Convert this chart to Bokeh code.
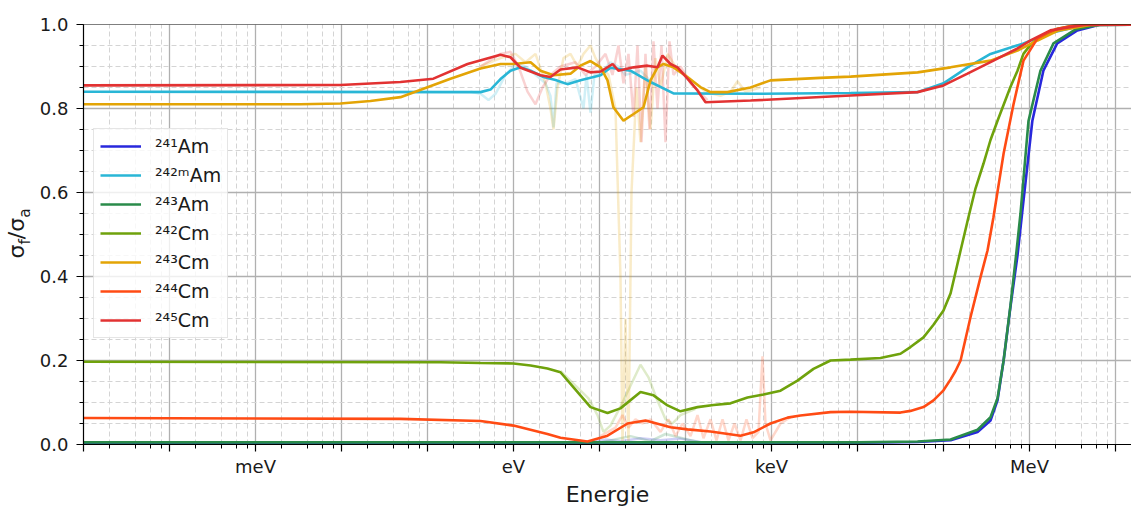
import math
from bokeh.plotting import figure
from bokeh.models import (Range1d, FixedTicker, Span, Legend, LegendItem, LinearAxis,
                          CustomJSTickFormatter, PrintfTickFormatter)
from bokeh.embed import file_html
from bokeh.resources import INLINE

FONT = "DejaVu Sans"

# ---------------- data (energy in eV, ratio sigma_f / sigma_a) ----------------
names = ["²⁴¹Am", "²⁴²ᵐAm", "²⁴³Am", "²⁴²Cm", "²⁴³Cm", "²⁴⁴Cm", "²⁴⁵Cm"]
colors = ["#2828dc", "#29b6d6", "#2a8b4a", "#6fa20c", "#e3a405", "#ff4b14", "#e23232"]

# smoothed curves
E_am241 = [1e-5, 1e4, 5e4, 1.21e5, 2.49e5, 3.52e5, 4.25e5, 5.0e5, 6.0e5, 7.25e5, 8.3e5, 1.08e6, 1.45e6, 2.1e6, 3.6e6, 6.7e6, 2e7]
am241 = [0.004, 0.004, 0.006, 0.01, 0.03, 0.057, 0.105, 0.2, 0.327, 0.45, 0.56, 0.771, 0.89, 0.955, 0.986, 1.0, 1.0]

E_am242m = [1e-5, 0.413, 0.54, 0.706, 0.923, 1.21, 1.58, 2.23, 3.08, 4.24, 6.01, 10.3, 13.4, 22.9, 39.2, 72.5, 745, 8300, 5.0e4, 1.0e5, 1.9e5, 3.52e5, 8.5e5, 1.75e6, 4.25e6, 2e7]
am242m = [0.840, 0.839, 0.845, 0.87, 0.89, 0.898, 0.89, 0.875, 0.868, 0.858, 0.867, 0.879, 0.897, 0.89, 0.863, 0.836, 0.835, 0.837, 0.839, 0.86, 0.898, 0.93, 0.955, 0.98, 0.998, 1.0]

E_am243 = [1e-5, 1e4, 5e4, 1.21e5, 2.49e5, 3.52e5, 4.25e5, 5.0e5, 6.0e5, 7.06e5, 7.86e5, 9.73e5, 1.34e6, 1.9e6, 3.4e6, 6.7e6, 2e7]
am243 = [0.005, 0.005, 0.007, 0.012, 0.035, 0.065, 0.11, 0.2, 0.33, 0.46, 0.55, 0.77, 0.89, 0.955, 0.988, 1.0, 1.0]

E_cm242 = [1e-5, 0.142, 0.413, 1.0, 1.58, 2.48, 3.52, 4.99, 7.86, 12.4, 17.5, 30.0, 42.5, 61.8, 87.5, 138, 212, 334, 526, 807, 1273, 2004, 3077, 4855, 8300, 1.85e4, 3.16e4, 4.13e4, 5.85e4, 7.65e4, 1.0e5, 1.21e5, 1.38e5, 1.58e5, 1.95e5, 2.36e5, 2.92e5, 3.52e5, 4.25e5, 6.0e5, 7.25e5, 8.5e5, 1.03e6, 1.24e6, 1.62e6, 2.12e6, 3.4e6, 5.1e6, 2e7]
cm242 = [0.197, 0.196, 0.194, 0.193, 0.188, 0.181, 0.172, 0.136, 0.089, 0.075, 0.086, 0.125, 0.117, 0.093, 0.079, 0.089, 0.094, 0.098, 0.112, 0.119, 0.128, 0.152, 0.18, 0.2, 0.202, 0.206, 0.216, 0.232, 0.255, 0.285, 0.319, 0.36, 0.41, 0.462, 0.541, 0.61, 0.669, 0.725, 0.771, 0.851, 0.89, 0.93, 0.952, 0.966, 0.98, 0.99, 0.998, 1.0, 1.0]

E_cm243 = [1e-5, 3.3e-3, 9.7e-3, 0.0217, 0.0485, 0.185, 0.413, 0.706, 1.0, 1.58, 2.06, 2.92, 4.6, 6.0, 7.85, 10.3, 12.4, 14.5, 19.0, 24.9, 32.5, 39.2, 47.3, 55.5, 72.5, 105, 149, 195, 307, 570, 973, 3700, 8300, 5e4, 1.21e5, 3.52e5, 7.25e5, 1.24e6, 2.12e6, 5.1e6, 2e7]
cm243 = [0.81, 0.81, 0.812, 0.818, 0.827, 0.871, 0.895, 0.906, 0.906, 0.91, 0.89, 0.879, 0.883, 0.902, 0.913, 0.898, 0.867, 0.803, 0.771, 0.787, 0.803, 0.867, 0.898, 0.906, 0.898, 0.875, 0.851, 0.839, 0.839, 0.85, 0.867, 0.873, 0.876, 0.886, 0.898, 0.914, 0.938, 0.962, 0.985, 0.999, 1.0]

E_cm244 = [1e-5, 0.0485, 0.413, 1.0, 2.48, 3.52, 7.25, 12.4, 21.2, 34.3, 66.9, 105.5, 195, 436, 618, 973, 1536, 2172, 4855, 8300, 3.16e4, 4.13e4, 5.85e4, 7.65e4, 1.0e5, 1.21e5, 1.38e5, 1.58e5, 2.06e5, 2.69e5, 3.25e5, 3.81e5, 5.0e5, 6.52e5, 8.51e5, 1.24e6, 1.62e6, 2.12e6, 3.4e6, 5.1e6, 2e7]
cm244 = [0.063, 0.061, 0.056, 0.045, 0.025, 0.016, 0.007, 0.021, 0.05, 0.057, 0.041, 0.036, 0.031, 0.021, 0.029, 0.05, 0.064, 0.069, 0.077, 0.078, 0.076, 0.08, 0.089, 0.105, 0.129, 0.155, 0.175, 0.2, 0.303, 0.398, 0.462, 0.541, 0.693, 0.81, 0.914, 0.967, 0.98, 0.99, 0.998, 1.0, 1.0]

E_cm245 = [1e-5, 9.7e-3, 0.0485, 0.117, 0.292, 0.706, 0.923, 1.21, 2.06, 2.69, 3.52, 5.55, 7.85, 10.3, 14.2, 16.6, 24.9, 36.1, 47.3, 54.0, 66.9, 80.7, 105.5, 137.9, 170.9, 570, 8300, 4.99e4, 1.0e5, 1.9e5, 3.81e5, 7.25e5, 1.03e6, 1.75e6, 4.25e6, 2e7]
cm245 = [0.855, 0.856, 0.863, 0.871, 0.906, 0.928, 0.922, 0.897, 0.879, 0.875, 0.893, 0.898, 0.886, 0.888, 0.906, 0.89, 0.898, 0.902, 0.898, 0.926, 0.906, 0.898, 0.871, 0.843, 0.815, 0.819, 0.831, 0.839, 0.855, 0.883, 0.914, 0.943, 0.962, 0.986, 0.999, 1.0]

# faint raw data (resonance region)
FE_am241 = [7.855, 11.74, 17.54, 29.97, 51.22, 87.47, 149.4]
Fam241 = [0.005, 0.012, 0.008, 0.015, 0.01, 0.014, 0.006]

FE_am242m = [0.316, 0.413, 0.512, 0.618, 0.807, 1.055, 1.379, 1.802, 2.355, 2.692, 2.919, 3.162, 4.024, 5.259, 6.518, 7.061, 7.855, 8.745, 10.27, 13.42, 16.63, 20.05, 29.97, 39.17]
Fam242m = [0.84, 0.835, 0.82, 0.835, 0.88, 0.905, 0.90, 0.88, 0.86, 0.83, 0.755, 0.86, 0.86, 0.87, 0.80, 0.88, 0.79, 0.88, 0.885, 0.91, 0.90, 0.88, 0.89, 0.865]

FE_am243 = [10.27, 22.93, 39.17, 58.53, 114.4, 149.4]
Fam243 = [0.005, 0.02, 0.008, 0.025, 0.01, 0.005]

FE_cm242 = [3.521, 5.259, 7.448, 9.473, 11.13, 13.42, 17.54, 22.93, 29.97, 37.14, 46.01, 58.53, 70.57, 87.47, 130.7]
Fcm242 = [0.175, 0.14, 0.11, 0.07, 0.03, 0.045, 0.09, 0.14, 0.19, 0.16, 0.11, 0.06, 0.05, 0.07, 0.085]

FE_cm243 = [0.413, 0.706, 1.055, 1.379, 1.802, 2.355, 2.692, 2.919, 3.248, 3.815, 4.60, 5.547, 6.518, 7.855, 8.982, 10.27, 12.72, 15.34, 17.54, 18.50, 20.05, 21.73, 23.55, 26.92, 29.97, 34.26, 39.17, 44.80, 51.22, 61.75, 76.47, 114.4, 170.9, 255.4, 333.6, 402.4, 498.5, 745]
Fcm243 = [0.90, 0.92, 0.93, 0.91, 0.93, 0.86, 0.80, 0.75, 0.85, 0.92, 0.93, 0.90, 0.93, 0.95, 0.92, 0.90, 0.88, 0.80, 0.40, 0.0, 0.3, 0.0, 0.6, 0.85, 0.72, 0.90, 0.75, 0.92, 0.85, 0.93, 0.90, 0.87, 0.84, 0.83, 0.84, 0.865, 0.84, 0.85]

FE_cm244 = [10.27, 15.34, 18.50, 21.73, 26.22, 31.62, 39.17, 51.22, 63.42, 76.47, 92.29, 114.4, 137.9, 161.9, 195.4, 229.4, 269.5, 316.2, 371.4, 436.1, 511.9, 601.4, 706.0, 785.9, 851.4, 973.4, 1273, 1663]
Fcm244 = [0.02, 0.04, 0.07, 0.04, 0.06, 0.05, 0.06, 0.03, 0.06, 0.02, 0.05, 0.02, 0.07, 0.015, 0.06, 0.01, 0.06, 0.01, 0.05, 0.01, 0.06, 0.015, 0.03, 0.21, 0.05, 0.01, 0.05, 0.065]

FE_cm245 = [0.413, 0.706, 0.923, 1.143, 1.455, 1.802, 2.174, 2.692, 3.521, 5.259, 6.875, 8.982, 11.74, 14.16, 16.63, 19.00, 21.73, 24.85, 27.65, 30.78, 34.26, 38.14, 42.46, 47.25, 52.60, 58.53, 65.13, 72.47, 87.47, 114.4, 180.3]
Fcm245 = [0.90, 0.93, 0.935, 0.90, 0.84, 0.81, 0.85, 0.88, 0.90, 0.91, 0.88, 0.90, 0.93, 0.88, 0.95, 0.86, 0.93, 0.78, 0.95, 0.72, 0.93, 0.75, 0.96, 0.80, 0.95, 0.72, 0.96, 0.88, 0.90, 0.86, 0.82]

main_E = [E_am241, E_am242m, E_am243, E_cm242, E_cm243, E_cm244, E_cm245]
main_v = [am241, am242m, am243, cm242, cm243, cm244, cm245]
faint_E = [FE_am241, FE_am242m, FE_am243, FE_cm242, FE_cm243, FE_cm244, FE_cm245]
faint_v = [Fam241, Fam242m, Fam243, Fcm242, Fcm243, Fcm244, Fcm245]

x_tick_names = {-3: "meV", 0: "eV", 3: "keV", 6: "MeV"}
y_ticks = [0.0, 0.2, 0.4, 0.6, 0.8, 1.0]

# y-axis title pieces: sigma_f / sigma_a (main glyphs and subscripts)
ytitle_main = ["σ", "/", "σ"]
ytitle_sub = ["f", "a"]

for a, b in list(zip(main_E, main_v)) + list(zip(faint_E, faint_v)):
    if len(a) != len(b):
        raise ValueError("length mismatch %d %d" % (len(a), len(b)))

# ---------------- figure ----------------
FRAME_H = 420.0
p = figure(width=1131, height=509, x_axis_type="log",
           x_range=Range1d(1e-5, 1.535e7), y_range=Range1d(0, 1),
           output_backend="svg", toolbar_location=None,
           min_border_left=83, min_border_right=0, min_border_top=24, min_border_bottom=65)
p.outline_line_color = None
p.background_fill_color = "white"

decades = [10.0 ** k for k in range(-5, 8)]
minors = [m * 10.0 ** k for k in range(-5, 8) for m in (2, 4, 6, 8)]
p.xaxis.ticker = FixedTicker(ticks=decades, minor_ticks=minors)
p.xaxis.formatter = CustomJSTickFormatter(
    args=dict(names={str(k): v for k, v in x_tick_names.items()}),
    code="const k = String(Math.round(Math.log10(tick))); return (k in names) ? names[k] : '';")
p.yaxis.ticker = FixedTicker(ticks=y_ticks, minor_ticks=[round(0.05 * i, 2) for i in range(21)])
p.yaxis.formatter = PrintfTickFormatter(format="%.1f")

for ax in (p.xaxis[0], p.yaxis[0]):
    ax.axis_line_color = "black"
    ax.axis_line_width = 1.2
    ax.major_tick_line_color = "black"
    ax.major_tick_line_width = 1.2
    ax.minor_tick_line_color = "black"
    ax.minor_tick_line_width = 1.0
    ax.major_tick_out = 7
    ax.major_tick_in = 0
    ax.minor_tick_out = 4
    ax.minor_tick_in = 0
    ax.major_label_text_font = FONT
    ax.major_label_text_font_size = "18px"
    ax.major_label_text_color = "#1a1a1a"
    ax.axis_label_text_font = FONT
    ax.axis_label_text_font_size = "22px"
    ax.axis_label_text_font_style = "normal"
    ax.axis_label_text_color = "#1a1a1a"
p.xaxis.major_label_standoff = 4
p.yaxis.major_label_standoff = 8
p.xaxis.axis_label = "Energie"
p.xaxis.axis_label_standoff = 2

# y title built from two label-only axes (subscripts sit on the inner one)
adv = {"σ": 0.634, "f": 0.352, "/": 0.337, "a": 0.613}
pos = 186.0
main_pos, sub_pos = [], []
for t, fs, is_sub in [("σ", 22, False), ("f", 15.4, True), ("/", 22, False), ("σ", 22, False), ("a", 15.4, True)]:
    w = adv[t] * fs
    (sub_pos if is_sub else main_pos).append((pos + w / 2) / FRAME_H)
    pos += w


def title_axis(ticks, texts, size, standoff):
    ax = LinearAxis(ticker=FixedTicker(ticks=ticks, minor_ticks=[]),
                    formatter=CustomJSTickFormatter(args=dict(labels=texts), code="return labels[index];"))
    ax.axis_line_color = None
    ax.major_tick_line_color = None
    ax.minor_tick_line_color = None
    ax.major_tick_out = 0
    ax.major_tick_in = 0
    ax.major_label_orientation = "vertical"
    ax.major_label_standoff = standoff
    ax.major_label_text_font = FONT
    ax.major_label_text_font_size = size
    ax.major_label_text_color = "#1a1a1a"
    return ax


p.add_layout(title_axis(sub_pos, ytitle_sub, "15.4px", 2), "left")
p.add_layout(title_axis(main_pos, ytitle_main, "22px", -16), "left")

for g in (p.xgrid[0], p.ygrid[0]):
    g.grid_line_color = "#b0b0b0"
    g.grid_line_width = 1.3
    g.minor_grid_line_color = "#d4d4d4"
    g.minor_grid_line_width = 1.0
    g.minor_grid_line_dash = "5 3"

p.add_layout(Span(location=1.0, dimension="width", line_color="black", line_width=1.2))

# faint raw curves
for E, v, c in zip(faint_E, faint_v, colors):
    p.line(E, v, line_color=c, line_width=2.5, line_alpha=0.22)

# main curves
renderers = []
for E, v, c in zip(main_E, main_v, colors):
    renderers.append(p.line(E, v, line_color=c, line_width=2.6))

legend = Legend(items=[LegendItem(label=n, renderers=[r]) for n, r in zip(names, renderers)],
                location=(10, 106))
legend.label_text_font = FONT
legend.label_text_font_size = "19px"
legend.label_text_color = "#1a1a1a"
legend.label_height = 22
legend.glyph_height = 22
legend.glyph_width = 41
legend.label_standoff = 14
legend.spacing = 7
legend.padding = 6
legend.margin = 0
legend.border_line_color = "#cccccc"
legend.border_line_width = 1
legend.background_fill_color = "white"
legend.background_fill_alpha = 0.8
p.add_layout(legend)

open("out.html", "w").write(file_html(p, INLINE))
